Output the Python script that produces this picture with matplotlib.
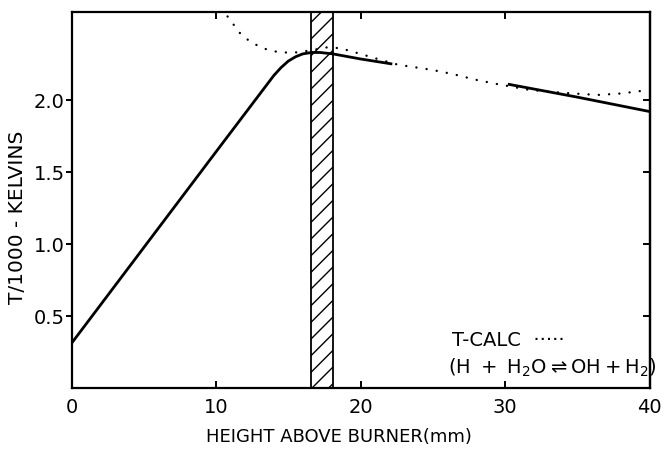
import matplotlib
matplotlib.use("Agg")
import matplotlib.pyplot as plt
import numpy as np

# ---- data ----
solid1_x = [0, 10, 14.0, 14.5, 15.0, 15.5, 16.0, 16.6, 17.2, 18.1, 20.0, 22.2]
solid1_t = [0.31, 1.64, 2.17, 2.225, 2.27, 2.30, 2.32, 2.33, 2.33, 2.32, 2.285, 2.25]
solid2_x = [30.2, 35.0, 40.0]
solid2_t = [2.11, 2.02, 1.92]
calc_x = [10.8, 11.1, 11.6, 12.3, 13.2, 14.4, 15.5, 16.6, 17.6, 18.6, 20.0, 21.35,
          22.6, 24.9, 26.4, 28.0, 29.5, 31.7, 34.0, 36.4, 38.0, 40.0]
calc_t = [2.58, 2.54, 2.47, 2.41, 2.36, 2.33, 2.33, 2.345, 2.365, 2.36, 2.32, 2.28,
          2.245, 2.21, 2.18, 2.14, 2.11, 2.07, 2.05, 2.035, 2.045, 2.07]
band = [16.6, 18.1]
xticks = [0, 10, 20, 30, 40]
yticks = [0.5, 1.0, 1.5, 2.0]
ytick_labels = ["0.5", "1.0", "1.5", "2.0"]

W, H = 665, 451
fig = plt.figure(figsize=(W / 100, H / 100), dpi=100)
ax = fig.add_axes([71.5 / W, 1 - 388 / H, (649.5 - 71.5) / W, (388 - 12) / H])

ax.set_xlim(0, 40)
ax.set_ylim(0, (388 - 12) / 144)

plt.rcParams["hatch.linewidth"] = 1.0
ax.axvspan(band[0], band[1], facecolor="white", edgecolor="black", hatch="//",
           lw=1.3, zorder=2)
ax.plot(solid1_x, solid1_t, color="black", lw=2.0, zorder=3, solid_capstyle="butt")
ax.plot(solid2_x, solid2_t, color="black", lw=2.0, zorder=3, solid_capstyle="butt")
ax.plot(calc_x, calc_t, color="black", lw=1.7, ls=(0, (0.05, 4.3)),
        dash_capstyle="round", zorder=4)

for s in ax.spines.values():
    s.set_linewidth(1.6)

ax.set_xticks(xticks)
ax.set_xticklabels([str(v) for v in xticks])
ax.set_yticks(yticks)
ax.set_yticklabels(ytick_labels)
ax.tick_params(axis="x", direction="in", top=True, length=5, width=1.4,
               labelsize=14, pad=7)
ax.tick_params(axis="y", direction="out", length=4, width=1.4, labelsize=14, pad=1)
sec = ax.secondary_yaxis("right")
sec.set_yticks(yticks)
sec.tick_params(direction="in", length=5, width=1.4, labelright=False)
sec.spines["right"].set_linewidth(1.6)

fig.text(18 / W, 1 - 217 / H, "T/1000 - KELVINS", rotation=90, ha="center",
         va="center", fontsize=14.5)
fig.text(339 / W, 1 - 437 / H, "HEIGHT ABOVE BURNER(mm)", ha="center",
         va="center", fontsize=13)

fig.text(452 / W, 1 - 340 / H, "T-CALC  \u00b7\u00b7\u00b7\u00b7\u00b7",
         ha="left", va="center", fontsize=14)
fig.text(448 / W, 1 - 368 / H,
         r"$\left(\mathrm{H\ +\ H_2O} \rightleftharpoons \mathrm{OH + H_2}\right)$",
         ha="left", va="center", fontsize=14)

fig.savefig("out.png", dpi=100)
